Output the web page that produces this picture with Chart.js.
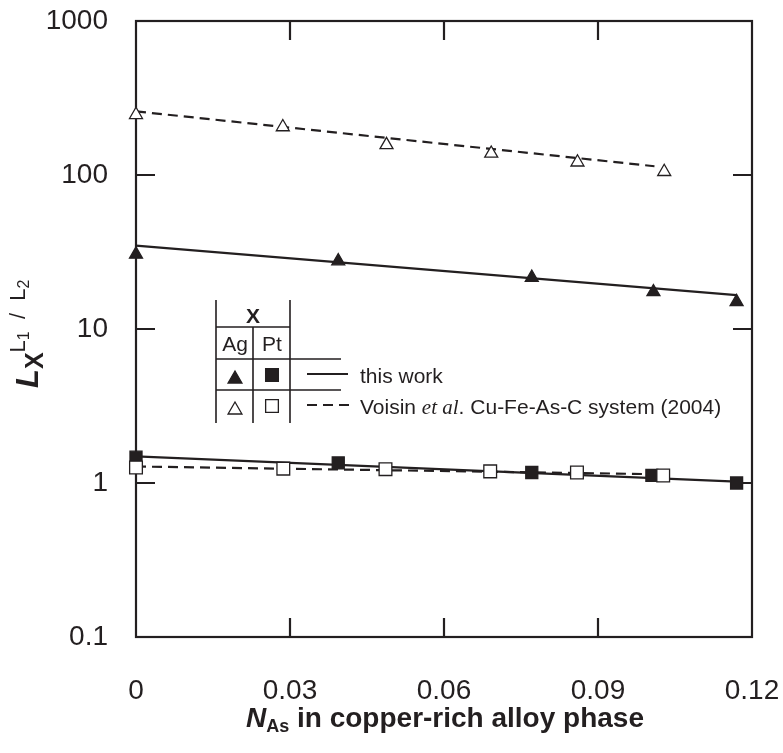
<!DOCTYPE html>
<html>
<head>
<meta charset="utf-8">
<script src="https://cdn.jsdelivr.net/npm/chart.js@4.4.1/dist/chart.umd.min.js"></script>
<style>
  html, body { margin: 0; padding: 0; background: #fff; }
  #wrap { width: 783px; height: 753px; }
</style>
</head>
<body>
<div id="wrap"><canvas id="chart"></canvas></div>
<script>
// axis ticks
const xTicks = [0, 0.03, 0.06, 0.09, 0.12];
const xTickLabels = ['0', '0.03', '0.06', '0.09', '0.12'];
const yTicks = [0.1, 1, 10, 100, 1000];
const yTickLabels = ['0.1', '1', '10', '100', '1000'];

// Ag, this work (filled triangles) + fitted line
const agWorkX = [0, 0.0394, 0.0771, 0.1008, 0.1170];
const agWorkY = [30.5, 27.6, 21.6, 17.4, 15.0];
const agWorkFitX = [0, 0.117];
const agWorkFitY = [34.8, 16.6];

// Ag, Voisin et al. (open triangles) + fitted line
const agVoisinX = [0, 0.0286, 0.0488, 0.0692, 0.0860, 0.1029];
const agVoisinY = [246, 205, 157, 138, 121, 105];
const agVoisinFitX = [0, 0.101];
const agVoisinFitY = [259, 114];

// Pt, this work (filled squares) + fitted line
const ptWorkX = [0, 0.0394, 0.0771, 0.1005, 0.1170];
const ptWorkY = [1.47, 1.35, 1.17, 1.12, 1.00];
const ptWorkFitX = [0, 0.117];
const ptWorkFitY = [1.49, 1.02];

// Pt, Voisin et al. (open squares) + fitted line
const ptVoisinX = [0, 0.0287, 0.0486, 0.0690, 0.0859, 0.1027];
const ptVoisinY = [1.26, 1.24, 1.23, 1.19, 1.17, 1.12];
const ptVoisinFitX = [0, 0.102];
const ptVoisinFitY = [1.28, 1.14];

const ink = '#231f20';
const sans = "'Liberation Sans', Arial, sans-serif";

const pts = (xs, ys) => xs.map((x, i) => ({ x: x, y: ys[i] }));

function markers(label, xs, ys, style, filled, radius) {
  return {
    label: label,
    data: pts(xs, ys),
    showLine: false,
    pointStyle: style,
    pointRadius: radius,
    pointBorderWidth: 1.3,
    pointBorderColor: ink,
    pointBackgroundColor: filled ? ink : '#ffffff',
    clip: false,
    order: filled ? 1 : 0
  };
}

function fitLine(label, xs, ys, dashed) {
  return {
    label: label,
    data: pts(xs, ys),
    showLine: true,
    borderColor: ink,
    borderWidth: 2.2,
    borderDash: dashed ? [10, 6] : [],
    pointRadius: 0,
    clip: false,
    order: 5
  };
}

// draws a run of text pieces with different fonts / baseline shifts
function drawRuns(ctx, runs, x, y) {
  runs.forEach(r => {
    ctx.font = r.font;
    ctx.fillText(r.text, x, y + (r.dy || 0));
    x += ctx.measureText(r.text).width;
  });
  return x;
}

// keep chart area fixed: drop the extra label padding chart.js adds
function noPad(s) {
  s.paddingTop = 0; s.paddingBottom = 0; s.paddingLeft = 0; s.paddingRight = 0;
}

const framePlugin = {
  id: 'frame',
  beforeDatasetsDraw(chart) {
    const { ctx, chartArea: a, scales } = chart;
    const tl = 19;
    ctx.save();
    ctx.strokeStyle = ink;
    ctx.lineWidth = 2.2;
    ctx.strokeRect(a.left, a.top, a.right - a.left, a.bottom - a.top);
    ctx.beginPath();
    scales.x.ticks.forEach(t => {
      const px = scales.x.getPixelForValue(t.value);
      if (px <= a.left + 2 || px >= a.right - 2) return;
      ctx.moveTo(px, a.bottom); ctx.lineTo(px, a.bottom - tl);
      ctx.moveTo(px, a.top); ctx.lineTo(px, a.top + tl);
    });
    scales.y.ticks.forEach(t => {
      const py = scales.y.getPixelForValue(t.value);
      if (py <= a.top + 2 || py >= a.bottom - 2) return;
      ctx.moveTo(a.left, py); ctx.lineTo(a.left + tl, py);
      ctx.moveTo(a.right, py); ctx.lineTo(a.right - tl, py);
    });
    ctx.stroke();
    ctx.restore();
  }
};

const decorPlugin = {
  id: 'decor',
  afterDraw(chart) {
    const ctx = chart.ctx;
    ctx.save();
    ctx.fillStyle = ink;
    ctx.strokeStyle = ink;
    ctx.textBaseline = 'alphabetic';

    // x axis title
    ctx.textAlign = 'left';
    drawRuns(ctx, [
      { text: 'N', font: 'italic bold 28px ' + sans },
      { text: 'As', font: 'bold 18px ' + sans, dy: 5 },
      { text: ' in copper-rich alloy phase', font: 'bold 28px ' + sans }
    ], 246, 727);

    // y axis title (rotated)
    ctx.save();
    ctx.translate(38, 388);
    ctx.rotate(-Math.PI / 2);
    drawRuns(ctx, [
      { text: 'L', font: 'italic bold 31px ' + sans },
      { text: 'X', font: 'bold 25px ' + sans, dy: 5 },
      { text: 'L', font: '22px ' + sans, dy: -13 },
      { text: '1', font: '16px ' + sans, dy: -9 },
      { text: '  /  ', font: '22px ' + sans, dy: -13 },
      { text: 'L', font: '22px ' + sans, dy: -13 },
      { text: '2', font: '16px ' + sans, dy: -9 }
    ], 0, 0);
    ctx.restore();

    // legend table
    ctx.lineWidth = 1.6;
    ctx.beginPath();
    ctx.moveTo(216, 300); ctx.lineTo(216, 423);
    ctx.moveTo(290, 300); ctx.lineTo(290, 423);
    ctx.moveTo(253, 327); ctx.lineTo(253, 423);
    ctx.moveTo(216, 327); ctx.lineTo(290, 327);
    ctx.moveTo(216, 359); ctx.lineTo(341, 359);
    ctx.moveTo(216, 390); ctx.lineTo(341, 390);
    ctx.stroke();

    ctx.textAlign = 'center';
    ctx.font = 'bold 21px ' + sans;
    ctx.fillText('X', 253, 323);
    ctx.font = '21px ' + sans;
    ctx.fillText('Ag', 235, 351);
    ctx.fillText('Pt', 272, 351);

    const sym = (style, filled, r, x, y) => {
      ctx.fillStyle = filled ? ink : '#ffffff';
      ctx.strokeStyle = ink;
      ctx.lineWidth = 1.3;
      Chart.helpers.drawPoint(ctx, { pointStyle: style, radius: r, rotation: 0, borderWidth: 1.3 }, x, y);
    };
    sym('triangle', true, 8, 235, 379);
    sym('rect', true, 9, 272, 375);
    sym('triangle', false, 8, 235, 410);
    sym('rect', false, 9, 272, 406);

    ctx.strokeStyle = ink;
    ctx.lineWidth = 2.2;
    ctx.beginPath();
    ctx.moveTo(307, 374); ctx.lineTo(348, 374);
    ctx.stroke();
    ctx.setLineDash([10, 6]);
    ctx.beginPath();
    ctx.moveTo(307, 405); ctx.lineTo(349, 405);
    ctx.stroke();
    ctx.setLineDash([]);

    ctx.fillStyle = ink;
    ctx.textAlign = 'left';
    ctx.font = '21px ' + sans;
    ctx.fillText('this work', 360, 383);
    drawRuns(ctx, [
      { text: 'Voisin ', font: '21px ' + sans },
      { text: 'et al', font: "italic 21px 'Liberation Serif', 'Times New Roman', serif" },
      { text: '. Cu-Fe-As-C system (2004)', font: '21px ' + sans }
    ], 360, 414);

    ctx.restore();
  }
};

new Chart(document.getElementById('chart'), {
  type: 'scatter',
  data: {
    datasets: [
      markers('Ag this work', agWorkX, agWorkY, 'triangle', true, 7.5),
      fitLine('Ag this work fit', agWorkFitX, agWorkFitY, false),
      markers('Ag Voisin', agVoisinX, agVoisinY, 'triangle', false, 7.5),
      fitLine('Ag Voisin fit', agVoisinFitX, agVoisinFitY, true),
      markers('Pt this work', ptWorkX, ptWorkY, 'rect', true, 8.5),
      fitLine('Pt this work fit', ptWorkFitX, ptWorkFitY, false),
      markers('Pt Voisin', ptVoisinX, ptVoisinY, 'rect', false, 9),
      fitLine('Pt Voisin fit', ptVoisinFitX, ptVoisinFitY, true)
    ]
  },
  options: {
    responsive: true,
    maintainAspectRatio: false,
    animation: false,
    devicePixelRatio: 1,
    layout: { padding: { left: 0, right: 31, top: 21, bottom: 0 } },
    plugins: {
      legend: { display: false },
      tooltip: { enabled: false },
      title: { display: false }
    },
    scales: {
      x: {
        type: 'linear',
        min: 0,
        max: 0.12,
        afterBuildTicks: s => { s.ticks = xTicks.map(v => ({ value: v })); },
        afterFit: s => { s.height = 116; noPad(s); },
        grid: { display: false, drawTicks: false },
        border: { display: false },
        ticks: {
          callback: (v, i) => xTickLabels[i],
          color: ink,
          font: { family: sans, size: 28 },
          padding: 37,
          maxRotation: 0,
          autoSkip: false
        }
      },
      y: {
        type: 'logarithmic',
        min: 0.1,
        max: 1000,
        afterBuildTicks: s => { s.ticks = yTicks.map(v => ({ value: v })); },
        afterFit: s => { s.width = 136; noPad(s); },
        grid: { display: false, drawTicks: false },
        border: { display: false },
        ticks: {
          callback: (v, i) => yTickLabels[i],
          color: ink,
          font: { family: sans, size: 28 },
          padding: 28,
          autoSkip: false
        }
      }
    }
  },
  plugins: [framePlugin, decorPlugin]
});
</script>
</body>
</html>
